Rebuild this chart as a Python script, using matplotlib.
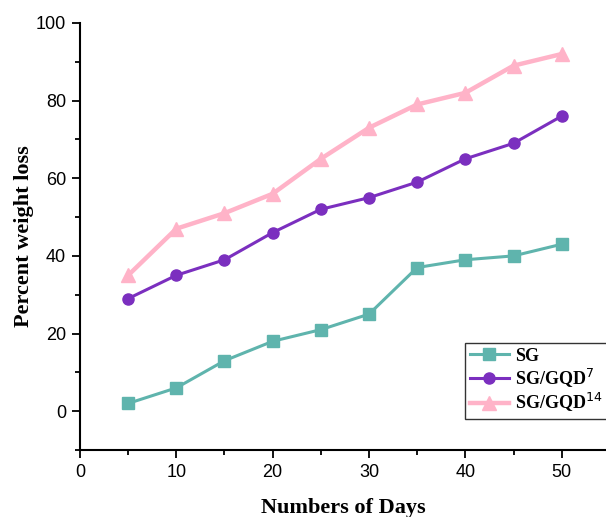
import matplotlib
matplotlib.use('Agg')
import matplotlib.pyplot as plt

# data
days = [5, 10, 15, 20, 25, 30, 35, 40, 45, 50]
sg = [2, 6, 13, 18, 21, 25, 37, 39, 40, 43]
sg_gqd7 = [29, 35, 39, 46, 52, 55, 59, 65, 69, 76]
sg_gqd14 = [35, 47, 51, 56, 65, 73, 79, 82, 89, 92]

fig = plt.figure(figsize=(6.06, 5.17), dpi=100)
ax = fig.add_axes([0.132, 0.1296, 0.868, 0.826])

ax.plot(days, sg, color='#5fb4ad', marker='s', markersize=8, lw=2.2, label='SG')
ax.plot(days, sg_gqd7, color='#7b2fbf', marker='o', markersize=8, lw=2.2, label='SG/GQD$^{7}$')
ax.plot(days, sg_gqd14, color='#ffb3c8', marker='^', markersize=10, lw=3.2, label='SG/GQD$^{14}$')

ax.set_xlim(0, 54.6)
ax.set_ylim(-10, 100)
ax.set_xticks([0, 10, 20, 30, 40, 50])
ax.set_xticks([5, 15, 25, 35, 45], minor=True)
ax.set_yticks([0, 20, 40, 60, 80, 100])
ax.set_yticks([-10, 10, 30, 50, 70, 90], minor=True)

for s in ['top', 'right']:
    ax.spines[s].set_visible(False)
for s in ['left', 'bottom']:
    ax.spines[s].set_linewidth(1.5)
ax.tick_params(which='major', length=6, width=1.3, labelsize=13, pad=4)
ax.tick_params(which='minor', length=3.5, width=1.3)
for lab in ax.get_xticklabels() + ax.get_yticklabels():
    lab.set_family('Liberation Sans')

ax.set_xlabel('Numbers of Days', family='Liberation Serif', fontweight='bold', fontsize=16, labelpad=12)
ax.set_ylabel('Percent weight loss', family='Liberation Serif', fontweight='bold', fontsize=16, labelpad=1)

leg = ax.legend(loc='upper left', bbox_to_anchor=(0.732, 0.25), borderaxespad=0,
                prop={'family': 'Liberation Serif', 'weight': 'bold', 'size': 13},
                fancybox=False, edgecolor='black', handlelength=2.2, handletextpad=0.3,
                labelspacing=0.1, borderpad=0.25)
leg.get_frame().set_linewidth(1.0)

fig.savefig('out.png', dpi=100)
